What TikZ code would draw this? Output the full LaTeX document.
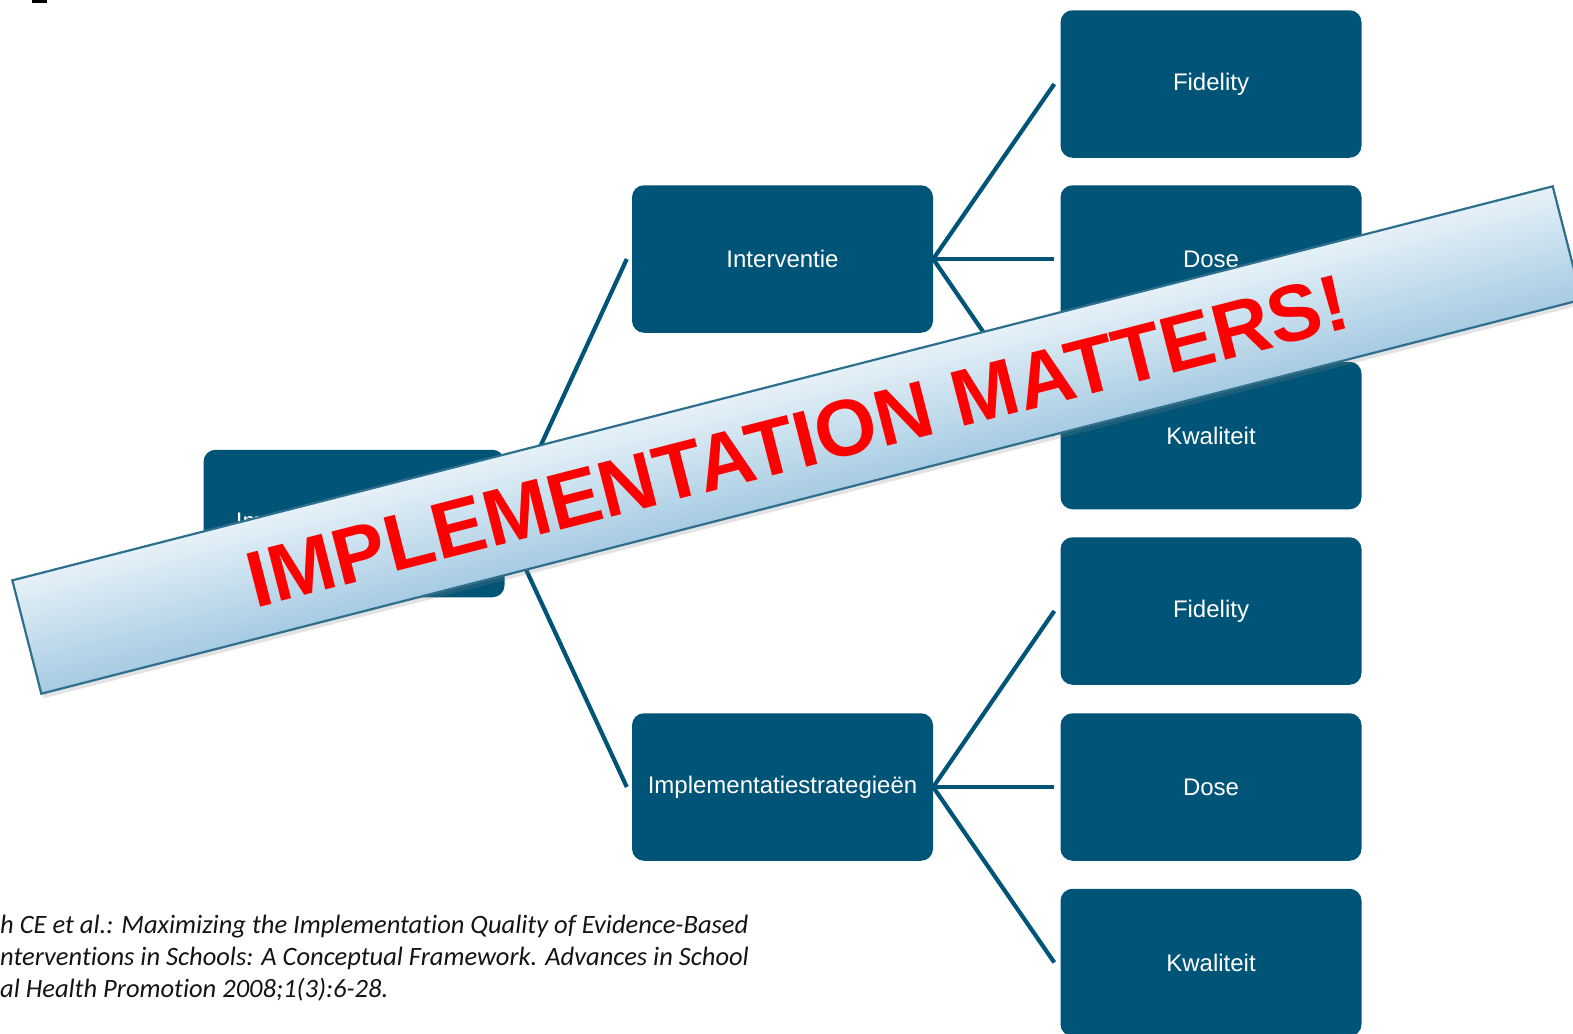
\documentclass[tikz,border=0pt]{standalone}
\usepackage{fontspec}
\setmainfont{Liberation Sans}
\newfontfamily\citefont[Ligatures={NoCommon}]{Carlito}
\usetikzlibrary{shadows}
\definecolor{boxblue}{RGB}{0,84,119}
\definecolor{bantop}{RGB}{230,241,248}
\definecolor{banbot}{RGB}{166,203,226}
\definecolor{banline}{RGB}{46,111,142}
\definecolor{citegray}{RGB}{20,20,20}
\begin{document}
\begin{tikzpicture}[x=1bp,y=-1bp,
  box/.style={fill=boxblue, rounded corners=12bp, minimum width=301bp, minimum height=147.5bp,
    inner sep=0pt, text=white, font=\fontsize{24bp}{28bp}\selectfont},
  link/.style={draw=boxblue, line width=4.2bp},
  citeline/.style={anchor=base west, inner sep=0pt, text=citegray,
    font=\citefont\itshape\fontsize{26.5bp}{32bp}\selectfont}]
\useasboundingbox (0,0) rectangle (1573,1033);
\clip (0,0) rectangle (1573,1033);
% small black mark at top left
\fill[black] (32,0) rectangle (47,3.3);
% boxes
\node[box] (root) at (354,523.5) {Implementatiekwaliteit};
\node[box] (int) at (782.5,259) {Interventie};
\node[box] (imp) at (782.5,787) {Implementatiestrategieën};
\node[box] (c1) at (1211,84) {Fidelity};
\node[box] (c2) at (1211,259) {Dose};
\node[box] (c3) at (1211,435.5) {Kwaliteit};
\node[box] (c4) at (1211,611) {Fidelity};
\node[box] (c5) at (1211,787) {Dose};
\node[box] (c6) at (1211,962.5) {Kwaliteit};
% connectors
\draw[link] (root.east) -- ([xshift=-5bp]int.west);
\draw[link] (root.east) -- ([xshift=-5bp]imp.west);
\foreach \c in {c1,c2,c3} \draw[link] (int.east) -- ([xshift=-6bp]\c.west);
\foreach \c in {c4,c5,c6} \draw[link] (imp.east) -- ([xshift=-6bp]\c.west);
% banner
\begin{scope}[transform canvas={rotate around={14.35:(797,440)}}]
\node[minimum width=1590bp, minimum height=117bp, inner sep=0pt,
  draw=banline, line width=2.2bp, top color=bantop, bottom color=banbot,
  drop shadow={opacity=0.22, shadow xshift=1bp, shadow yshift=-5bp}]
  (banner) at (797,440) {};
\node[inner sep=0pt, text=red, font=\bfseries\fontsize{80}{82}\selectfont]
  (bantext) at (797,441) {IMPLEMENTATION MATTERS!};
\end{scope}
% citation
\node[citeline] (cite1) at (0,933) {h CE et al.: Maximizing the Implementation Quality of Evidence-Based};
\node[citeline] (cite2) at (0,965) {nterventions in Schools: A Conceptual Framework. Advances in School};
\node[citeline] (cite3) at (0,997) {al Health Promotion 2008;1(3):6-28.};
\end{tikzpicture}
\end{document}
